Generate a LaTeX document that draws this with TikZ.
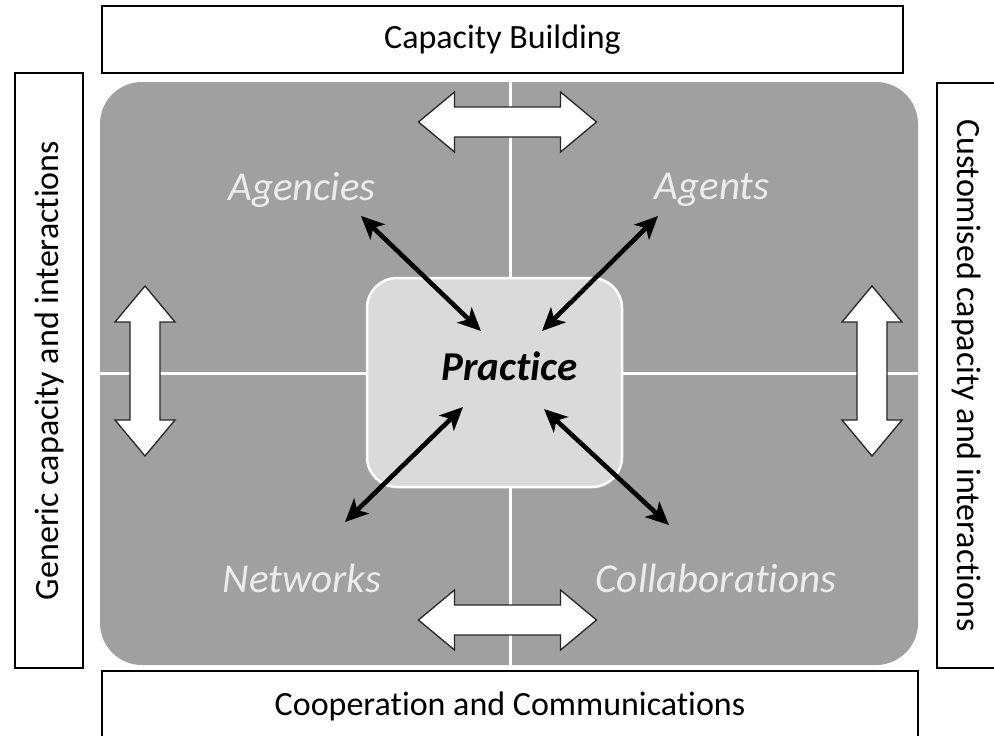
\documentclass[tikz,border=0pt]{standalone}
\usepackage{fontspec}
\setmainfont{Carlito}[Ligatures=NoCommon]
\usetikzlibrary{arrows.meta}
\definecolor{panel}{RGB}{160,160,160}
\definecolor{core}{RGB}{218,218,218}
\definecolor{lbl}{RGB}{236,236,236}
\tikzset{
  sidebox/.style={draw=black, line width=1.3pt, fill=white, inner sep=0pt},
  boxtext/.style={font=\fontsize{34}{40}\selectfont, text=black},
  paneltext/.style={font=\fontsize{41}{48}\selectfont\itshape, text=lbl},
  link/.style={line width=4.6pt, {Stealth[length=23pt,width=21pt,inset=6pt]}-{Stealth[length=23pt,width=21pt,inset=6pt]}},
  dblarrow/.pic={\draw[fill=white, draw=black!85, line width=1.3pt]
     (-#1,0) -- (-#1+36,-30) -- (-#1+36,-15) -- (#1-36,-15) -- (#1-36,-30) -- (#1,0)
     -- (#1-36,30) -- (#1-36,15) -- (-#1+36,15) -- (-#1+36,30) -- cycle;}
}
\begin{document}
\begin{tikzpicture}[x=1pt,y=-1pt]
\useasboundingbox[fill=white] (0,0) rectangle (994,736);
% side boxes
\node[sidebox, minimum width=801pt, minimum height=67pt] (top) at (502.5,39.5) {};
\node[boxtext] at (top.center) {Capacity Building};
\node[sidebox, minimum width=816pt, minimum height=70pt] (bottom) at (510,706) {};
\node[boxtext] at (bottom.center) {Cooperation and Communications};
\node[sidebox, minimum width=68pt, minimum height=595pt] (left) at (49,370.5) {};
\node[boxtext, rotate=90] at (left.center) {Generic capacity and interactions};
\node[sidebox, minimum width=60pt, minimum height=585pt] (right) at (967,375.5) {};
\node[boxtext, rotate=-90] at (right.center) {Customised capacity and interactions};
% panel
\node[fill=panel, rounded corners=42pt, minimum width=818pt, minimum height=583pt, inner sep=0pt] (panel) at (509,373.5) {};
\draw[white, line width=3pt] (panel.north -| 510,0) -- (panel.south -| 510,0);
\draw[white, line width=3pt] (panel.west |- 0,373) -- (panel.east |- 0,373);
% core
\node[fill=core, draw=white, line width=2.5pt, rounded corners=30pt, minimum width=255pt, minimum height=209pt] (practice) at (494.5,382.5) {};
\node[font=\fontsize{41}{48}\selectfont\bfseries\itshape] at (509.5,366) {Practice};
% labels
\node[paneltext] (agencies) at (302,190) {Agencies};
\node[paneltext] (agents) at (712,190) {Agents};
\node[paneltext] (networks) at (302,578) {Networks};
\node[paneltext] (collab) at (716,578) {Collaborations};
% arrows
\coordinate (a1) at (361,216); \coordinate (p1) at (481,331);
\coordinate (a2) at (658,216); \coordinate (p2) at (542,331);
\coordinate (a3) at (345,522); \coordinate (p3) at (463,407);
\coordinate (a4) at (669,525); \coordinate (p4) at (544,409);
\draw[link] (a1) -- (p1);
\draw[link] (a2) -- (p2);
\draw[link] (a3) -- (p3);
\draw[link] (a4) -- (p4);
% block arrows
\pic at (507.5,122) {dblarrow=89};
\pic at (507.5,620) {dblarrow=89};
\pic[rotate=90] at (145,371) {dblarrow=85};
\pic[rotate=90] at (872,371) {dblarrow=85};
\end{tikzpicture}
\end{document}
